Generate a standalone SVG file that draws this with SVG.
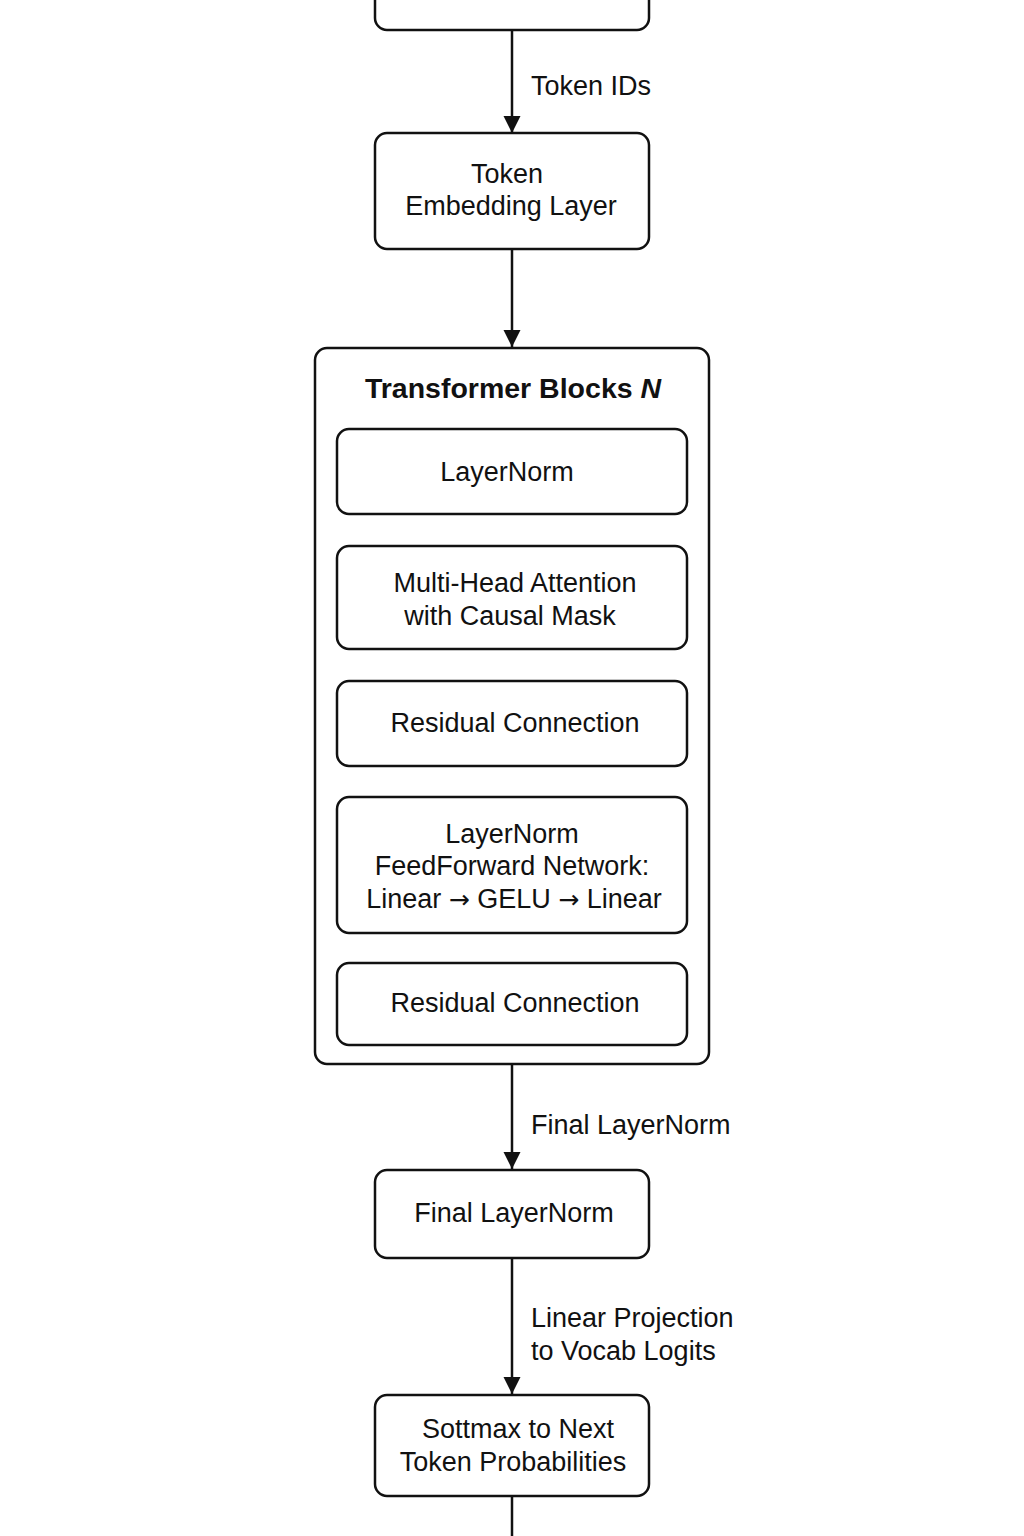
<svg xmlns="http://www.w3.org/2000/svg" width="1024" height="1536" viewBox="0 0 1024 1536">
<style>
.box{fill:#fff;stroke:#111;stroke-width:2.5}
.t{font-family:"Liberation Sans",Arial,sans-serif;font-size:27px;fill:#111;text-anchor:middle}
.l{font-family:"Liberation Sans",Arial,sans-serif;font-size:27px;fill:#111;text-anchor:start}
.title{font-family:"Liberation Sans",Arial,sans-serif;font-size:28.5px;font-weight:bold;fill:#111;text-anchor:middle}
.ar{font-family:"DejaVu Sans",sans-serif;font-size:25px}
.c{stroke:#111;stroke-width:2.5;fill:none}
</style>
<defs>
<marker id="ah" viewBox="0 0 10 10" refX="10" refY="5" markerWidth="7" markerHeight="7.5" markerUnits="strokeWidth" orient="auto">
<path d="M0,0 L10,5 L0,10 z" fill="#111"/>
</marker>
</defs>
<rect width="1024" height="1536" fill="#fff"/>
<g id="connectors">
<line class="c" x1="512" y1="30" x2="512" y2="133" marker-end="url(#ah)"/>
<line class="c" x1="512" y1="249" x2="512" y2="347" marker-end="url(#ah)"/>
<line class="c" x1="512" y1="514" x2="512" y2="546"/>
<line class="c" x1="512" y1="649" x2="512" y2="681"/>
<line class="c" x1="512" y1="766" x2="512" y2="797"/>
<line class="c" x1="512" y1="933" x2="512" y2="963"/>
<line class="c" x1="512" y1="1064" x2="512" y2="1169" marker-end="url(#ah)"/>
<line class="c" x1="512" y1="1258" x2="512" y2="1394" marker-end="url(#ah)"/>
<line class="c" x1="512" y1="1496" x2="512" y2="1540"/>
<text class="l" x="531" y="95">Token IDs</text>
<text class="l" x="531" y="1134">Final LayerNorm</text>
<text class="l" x="531" y="1327">Linear Projection</text>
<text class="l" x="531" y="1360">to Vocab Logits</text>
</g>
<g id="input">
<rect class="box" x="375" y="-40" width="274" height="70" rx="12"/>
</g>
<g id="embedding">
<rect class="box" x="375" y="133" width="274" height="116" rx="12"/>
<text class="t" x="507" y="183">Token</text>
<text class="t" x="511" y="215">Embedding Layer</text>
</g>
<g id="transformer">
<rect class="box" x="315" y="348" width="394" height="716" rx="12"/>
<text class="title" x="513" y="398">Transformer Blocks <tspan font-style="italic">N</tspan></text>
</g>
<g id="layernorm1">
<rect class="box" x="337" y="429" width="350" height="85" rx="12"/>
<text class="t" x="507" y="481">LayerNorm</text>
</g>
<g id="mha">
<rect class="box" x="337" y="546" width="350" height="103" rx="12"/>
<text class="t" x="515" y="592">Multi-Head Attention</text>
<text class="t" x="510" y="625">with Causal Mask</text>
</g>
<g id="residual1">
<rect class="box" x="337" y="681" width="350" height="85" rx="12"/>
<text class="t" x="515" y="732">Residual Connection</text>
</g>
<g id="ffn">
<rect class="box" x="337" y="797" width="350" height="136" rx="12"/>
<text class="t" x="512" y="843">LayerNorm</text>
<text class="t" x="512" y="875">FeedForward Network:</text>
<text class="t" x="514" y="908">Linear <tspan class="ar">→</tspan> GELU <tspan class="ar">→</tspan> Linear</text>
</g>
<g id="residual2">
<rect class="box" x="337" y="963" width="350" height="82" rx="12"/>
<text class="t" x="515" y="1012">Residual Connection</text>
</g>
<g id="final-layernorm">
<rect class="box" x="375" y="1170" width="274" height="88" rx="12"/>
<text class="t" x="514" y="1222">Final LayerNorm</text>
</g>
<g id="softmax">
<rect class="box" x="375" y="1395" width="274" height="101" rx="12"/>
<text class="t" x="518" y="1438">Sottmax to Next</text>
<text class="t" x="513" y="1471">Token Probabilities</text>
</g>
</svg>
